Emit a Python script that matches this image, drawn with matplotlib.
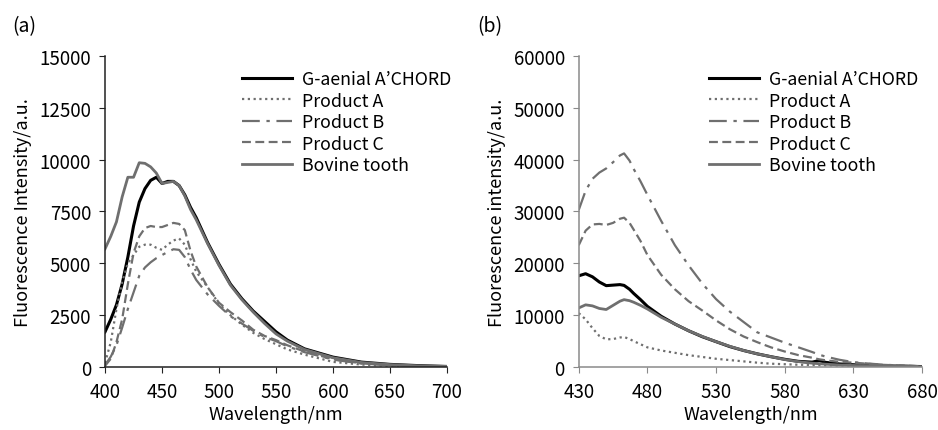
import matplotlib.pyplot as plt
import numpy as np

plt.rcParams['font.family'] = ['Noto Sans CJK JP', 'DejaVu Sans']

# panel (a)
wl_a = [400, 405, 410, 415, 420, 425, 430, 435, 440, 445, 450, 455, 460, 465, 470, 475,
        480, 490, 500, 510, 520, 530, 540, 550, 560, 575, 600, 625, 650, 675, 700]
gaenial_a = [1700, 2300, 3000, 4000, 5300, 6800, 7950, 8600, 9000, 9150, 8850, 8950, 8950, 8750, 8300, 7700,
             7200, 6000, 4950, 4000, 3300, 2700, 2200, 1700, 1300, 880, 480, 240, 130, 70, 30]
prodA_a = [200, 1200, 2800, 4100, 5000, 5400, 5800, 5900, 5900, 5750, 5650, 5900, 6100, 6200, 5900, 5200,
           4600, 3850, 3050, 2500, 2050, 1650, 1350, 1100, 850, 600, 250, 120, 60, 30, 10]
prodB_a = [100, 500, 1050, 1900, 2800, 3600, 4400, 4800, 5050, 5250, 5400, 5550, 5680, 5650, 5300, 4700,
           4200, 3500, 2950, 2450, 2100, 1750, 1450, 1250, 1000, 720, 360, 170, 90, 40, 20]
prodC_a = [60, 400, 1200, 2300, 4000, 5500, 6300, 6700, 6800, 6750, 6750, 6850, 6950, 6900, 6600, 5600,
           4850, 3850, 3100, 2650, 2250, 1800, 1500, 1300, 1050, 750, 380, 180, 90, 50, 20]
bovine_a = [5700, 6300, 7000, 8200, 9150, 9150, 9850, 9820, 9650, 9350, 8850, 8900, 8950, 8750, 8250, 7600,
            7100, 5950, 4900, 3950, 3250, 2650, 2100, 1600, 1250, 850, 450, 220, 120, 60, 30]

# panel (b)
wl_b = [430, 435, 440, 445, 450, 455, 460, 463, 467, 470, 475, 480, 490, 500, 510, 520, 530,
        540, 550, 560, 570, 580, 590, 600, 605, 610, 620, 630, 640, 650, 660, 670, 680]
gaenial_b = [17600, 18000, 17400, 16400, 15700, 15800, 15900, 15750, 15000, 14200, 13000, 11700, 9800, 8300, 7000, 5850, 4900,
             3950, 3200, 2550, 2000, 1500, 1100, 950, 1250, 900, 600, 450, 350, 250, 200, 150, 100]
prodA_b = [10400, 9200, 7500, 6000, 5350, 5400, 5700, 5800, 5400, 5000, 4400, 3800, 3200, 2750, 2300, 1950, 1600,
           1350, 1100, 850, 650, 550, 450, 400, 380, 350, 300, 250, 200, 150, 120, 100, 80]
prodB_b = [30300, 34000, 36300, 37500, 38300, 39500, 40800, 41200, 39800, 38200, 35800, 33200, 28200, 23500, 19600, 16100, 13100,
           10700, 8700, 6700, 5700, 4700, 3800, 2900, 2400, 2000, 1400, 950, 700, 500, 350, 250, 150]
prodC_b = [23500, 26300, 27500, 27600, 27400, 27800, 28600, 28800, 27800, 26500, 24300, 21600, 17800, 15000, 12700, 10900, 9000,
           7300, 5900, 4800, 3800, 3000, 2300, 1800, 1500, 1300, 1000, 850, 650, 450, 350, 250, 150]
bovine_b = [11400, 12000, 11800, 11300, 11100, 11900, 12700, 13000, 12800, 12500, 11900, 11200, 9600, 8300, 7000, 5900, 4900,
            4000, 3200, 2550, 2000, 1450, 1050, 750, 650, 550, 400, 300, 250, 200, 150, 100, 80]

labels = ["G-aenial A’CHORD", "Product A", "Product B", "Product C", "Bovine tooth"]
gray = '#6f6f6f'
styles = [dict(color='black', lw=2.2, ls='-'),
          dict(color=gray, lw=1.6, ls=(0, (1, 1.6))),
          dict(color=gray, lw=1.6, ls=(0, (8, 3, 1.5, 3))),
          dict(color=gray, lw=1.6, ls=(0, (4, 2))),
          dict(color=gray, lw=2.0, ls='-')]

fig = plt.figure(figsize=(9.38, 4.31), dpi=100)
ax1 = fig.add_axes([0.112, 0.146, 0.3645, 0.722])
ax2 = fig.add_axes([0.617, 0.146, 0.366, 0.722])

def setup(ax, xlim, xticks, ylim, yticks, ylabel, axcol):
    ax.set_xlim(*xlim)
    ax.set_ylim(*ylim)
    ax.set_xticks(xticks)
    ax.set_yticks(yticks)
    for s in ['top', 'right']:
        ax.spines[s].set_visible(False)
    for s in ['left', 'bottom']:
        ax.spines[s].set_color(axcol)
        ax.spines[s].set_linewidth(1.1)
    ax.tick_params(direction='out', length=4, color=axcol, labelsize=13.5, pad=6)
    ax.set_xlabel('Wavelength/nm', fontsize=13, labelpad=2)
    ax.set_ylabel(ylabel, fontsize=13, labelpad=5)

for ys, st, lab in zip([gaenial_a, prodA_a, prodB_a, prodC_a, bovine_a], styles, labels):
    ax1.plot(wl_a, ys, label=lab, **st)
for ys, st, lab in zip([gaenial_b, prodA_b, prodB_b, prodC_b, bovine_b], styles, labels):
    ax2.plot(wl_b, ys, label=lab, **st)

setup(ax1, (400, 700), np.arange(400, 701, 50), (0, 15000), np.arange(0, 15001, 2500),
      'Fluorescence Intensity/a.u.', '#222222')
setup(ax2, (430, 680), np.arange(430, 681, 50), (0, 60000), np.arange(0, 60001, 10000),
      'Fluorescence intensity/a.u.', '#8a8a8a')

leg_kw = dict(loc='upper left', frameon=False, fontsize=12.8, handlelength=2.8,
              handletextpad=0.6, labelspacing=0.2, borderpad=0, borderaxespad=0)
ax1.legend(bbox_to_anchor=(242/938, 1-71/431), bbox_transform=fig.transFigure, **leg_kw)
ax2.legend(bbox_to_anchor=(709/938, 1-71/431), bbox_transform=fig.transFigure, **leg_kw)

fig.text(12/938, 1-27/431, '(a)', fontsize=14, va='center', ha='left')
fig.text(477/938, 1-27/431, '(b)', fontsize=14, va='center', ha='left')

fig.savefig('out.png', dpi=100)
